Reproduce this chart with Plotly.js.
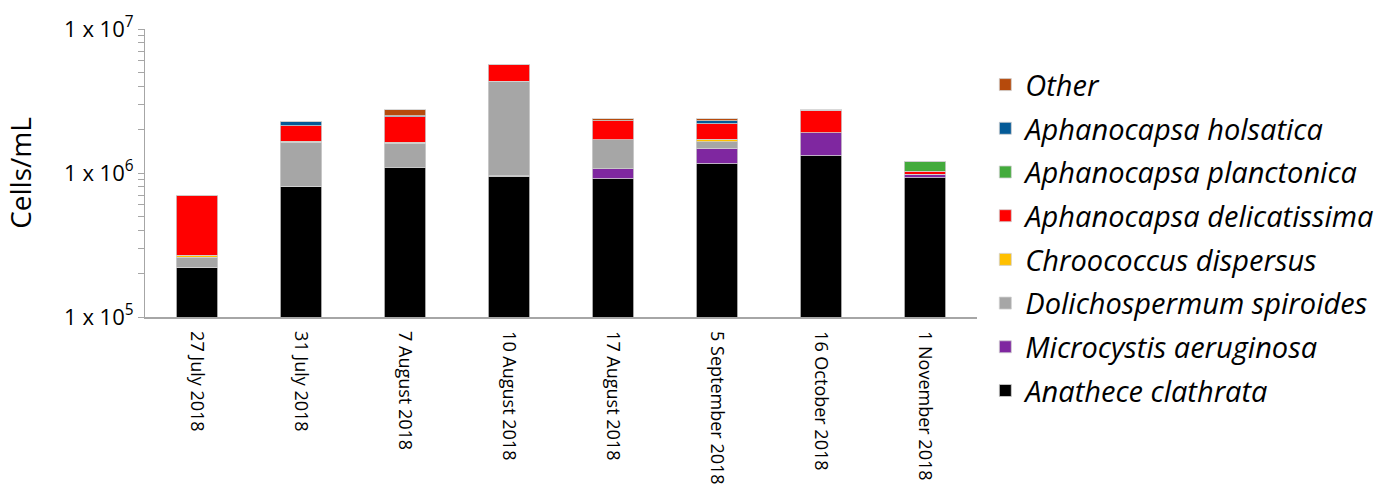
<!DOCTYPE html>
<html>
<head>
<meta charset="utf-8">
<script src="https://cdn.plot.ly/plotly-3.0.1.min.js"></script>
<style>html,body{margin:0;padding:0;background:#fff;}#chart{width:1400px;height:490px;}</style>
</head>
<body>
<div id="chart"></div>
<script>
const dates = ["27 July 2018","31 July 2018","7 August 2018","10 August 2018","17 August 2018","5 September 2018","16 October 2018","1 November 2018"];

const anathece      = [220000, 810000, 1090000, 950000, 910000, 1160000, 1320000, 930000];
const microcystis   = [1500, 0, 0, 5000, 160000, 320000, 590000, 47000];
const dolichosperm  = [38000, 830000, 520000, 3370000, 630000, 174000, 0, 0];
const chroococcus   = [9000, 15000, 30000, 0, 0, 60000, 0, 0];
const delicatissima = [428000, 470000, 820000, 1300000, 600000, 480000, 820000, 50000];
const planctonica   = [0, 0, 0, 0, 0, 0, 0, 170000];
const holsatica     = [0, 140000, 40000, 0, 0, 110000, 0, 0];
const other         = [3000, 0, 240000, 10000, 80000, 80000, 10000, 0];

const seriesNames  = ["Anathece clathrata","Microcystis aeruginosa","Dolichospermum spiroides","Chroococcus dispersus","Aphanocapsa delicatissima","Aphanocapsa planctonica","Aphanocapsa holsatica","Other"];
const seriesValues = [anathece, microcystis, dolichosperm, chroococcus, delicatissima, planctonica, holsatica, other];
const seriesColors = ["#000000","#7f27a0","#a6a6a6","#ffc000","#ff0000","#43ab3c","#045a97","#b64a0c"];

const tickVals = [1e5, 1e6, 1e7];
const tickText = ["1 x 10<sup>5</sup>","1 x 10<sup>6</sup>","1 x 10<sup>7</sup>"];

const FONT = "'Open Sans', 'Noto Sans', sans-serif";

const traces = seriesNames.map((name, i) => ({
  type: "bar",
  name: "<i>" + name + "</i>",
  x: dates,
  y: seriesValues[i],
  legendgroup: "g" + i,
  legendrank: seriesNames.length - i,
  marker: {color: seriesColors[i], line: {color: "#d0d0d0", width: 0.8}},
  hoverinfo: "x+y+name"
}));

const layout = {
  width: 1400, height: 490,
  margin: {l: 145, r: 423, t: 29, b: 173},
  barmode: "stack",
  bargap: 0.6,
  paper_bgcolor: "#fff",
  plot_bgcolor: "#fff",
  font: {family: FONT, color: "#000"},
  showlegend: true,
  legend: {
    x: 1.01, xanchor: "left", y: 0.895, yanchor: "top",
    traceorder: "grouped",
    tracegroupgap: 3,
    maxheight: 440,
    font: {size: 29, family: FONT, color: "#000"},
    itemwidth: 30
  },
  xaxis: {
    type: "category",
    tickangle: 90,
    tickfont: {size: 18},
    ticklabelstandoff: 9,
    showline: true, linecolor: "#a6a6a6", linewidth: 1.5,
    ticks: "", showgrid: false, zeroline: false
  },
  yaxis: {
    type: "log",
    range: [5, 7],
    tickvals: tickVals, ticktext: tickText,
    tickfont: {size: 22},
    ticks: "outside", ticklen: 6, tickcolor: "#a6a6a6", tickwidth: 1,
    minor: {ticks: "outside", ticklen: 6, tickcolor: "#a6a6a6", dtick: "D1", showgrid: false},
    showline: true, linecolor: "#a6a6a6", linewidth: 1,
    showgrid: false, zeroline: false,
    title: {text: "Cells/mL", font: {size: 28}, standoff: 24}
  }
};

Plotly.newPlot("chart", traces, layout, {displayModeBar: false, staticPlot: true});
</script>
</body>
</html>
